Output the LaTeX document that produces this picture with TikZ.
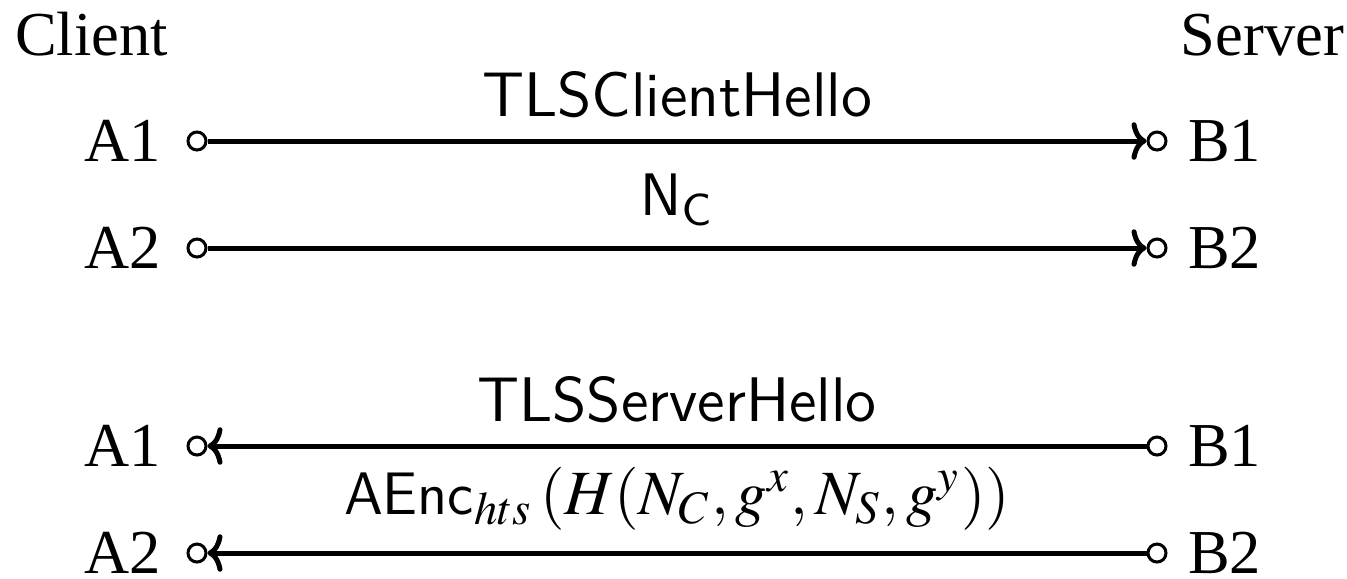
\documentclass[tikz,border=0pt]{standalone}
\usepackage{mathptmx}
\usepackage{fontspec}
\setmainfont{Liberation Serif}
\usetikzlibrary{arrows.meta}
\begin{document}
\begin{tikzpicture}[x=0.2pt,y=-0.2pt,
  party/.style={font=\fontsize{12.5}{15}\selectfont, inner sep=0pt},
  port/.style={circle, draw, line width=0.6pt, minimum size=3.6pt, inner sep=0pt},
  msg/.style={line width=1pt, -{To[length=3pt,width=7.5pt]}},
  lbl/.style={font=\fontsize{12.6}{15}\selectfont\sffamily, inner sep=0pt, anchor=south}]
\useasboundingbox (0,0) rectangle (1347,578);
% headers
\node[party, anchor=base west] (client) at (14,55) {Client};
\node[party, anchor=base east] (server) at (1345,55) {Server};
% group 1
\node[party, anchor=east] (a1) at (162,141) {A1};
\node[party, anchor=west] (b1) at (1187,141) {B1};
\node[port] (a1p) at (197,141) {};
\node[port] (b1p) at (1157,141) {};
\draw[msg] (a1p) -- (b1p);
\node[lbl] (m1) at (677,119) {TLSClientHello};
\node[party, anchor=east] (a2) at (162,248) {A2};
\node[party, anchor=west] (b2) at (1187,248) {B2};
\node[port] (a2p) at (197,248) {};
\node[port] (b2p) at (1157,248) {};
\draw[msg] (a2p) -- (b2p);
\node[lbl] (m2) at (677,226) {$\mathsf{N}_{\mathsf{C}}$};
% group 2
\node[party, anchor=east] (a3) at (162,446) {A1};
\node[party, anchor=west] (b3) at (1187,446) {B1};
\node[port] (a3p) at (197,446) {};
\node[port] (b3p) at (1157,446) {};
\draw[msg] (b3p) -- (a3p);
\node[lbl] (m3) at (677,424) {TLSServerHello};
\node[party, anchor=east] (a4) at (162,553) {A2};
\node[party, anchor=west] (b4) at (1187,553) {B2};
\node[port] (a4p) at (197,553) {};
\node[port] (b4p) at (1157,553) {};
\draw[msg] (b4p) -- (a4p);
\node[lbl] (m4) at (677,531) {$\mathsf{AEnc}_{hts}\,(H(N_C,g^x,N_S,g^y))$};
\end{tikzpicture}
\end{document}
